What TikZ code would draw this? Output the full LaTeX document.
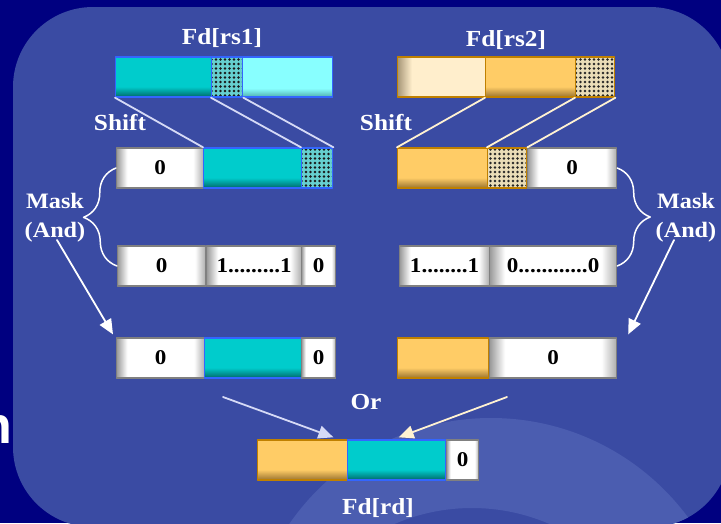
\documentclass[tikz,border=0pt]{standalone}
\usepackage{fontspec}
\setmainfont{Liberation Serif}[FakeStretch=1.1]
\newfontfamily\glyphsans{Liberation Sans}
\usetikzlibrary{arrows.meta,patterns.meta,decorations.pathreplacing}
\definecolor{navy}{HTML}{000080}
\definecolor{panel}{HTML}{3A4BA3}
\definecolor{panelhi}{HTML}{4B5DB0}
\definecolor{tealc}{HTML}{00CCCC}
\definecolor{tealdk}{HTML}{006868}
\definecolor{tealbd}{HTML}{3366FF}
\definecolor{tealdot}{HTML}{66D0D0}
\definecolor{aqua}{HTML}{88FFFF}
\definecolor{aquadk}{HTML}{4FAFAF}
\definecolor{gold}{HTML}{FFCC66}
\definecolor{golddk}{HTML}{9A7430}
\definecolor{goldbd}{HTML}{C08000}
\definecolor{golddot}{HTML}{EADDB8}
\definecolor{creamc}{HTML}{FFEECC}
\definecolor{creamdk}{HTML}{A89878}
\definecolor{lav}{HTML}{D6DAF6}
\definecolor{ivory}{HTML}{FFF2D2}
\pgfdeclarehorizontalshading{zeroshade}{100bp}{color(0bp)=(gray!80); color(25bp)=(gray!80); color(31bp)=(white); color(69bp)=(white); color(75bp)=(gray!65); color(100bp)=(gray!65)}
\pgfdeclareverticalshading{tealshade}{100bp}{color(0bp)=(tealdk); color(25bp)=(tealdk); color(38bp)=(tealc); color(100bp)=(tealc)}
\pgfdeclareverticalshading{aquashade}{100bp}{color(0bp)=(aquadk); color(25bp)=(aquadk); color(36bp)=(aqua); color(100bp)=(aqua)}
\pgfdeclareverticalshading{goldshade}{100bp}{color(0bp)=(golddk); color(25bp)=(golddk); color(38bp)=(gold); color(100bp)=(gold)}
\pgfdeclarehorizontalshading{creamshade}{100bp}{color(0bp)=(creamdk); color(25bp)=(creamdk); color(33bp)=(creamc); color(100bp)=(creamc)}
\begin{document}
\begin{tikzpicture}[x=1pt, y=-1pt, line join=round, line cap=round,
  >={Triangle[length=15pt, width=13pt]},
  cell/.style={minimum height=40pt, inner sep=0pt, anchor=west, text=black,
    font=\bfseries\fontsize{21}{21}\selectfont},
  zero/.style={cell, draw=gray, line width=1.2pt, shade, shading=zeroshade},
  tealcell/.style={cell, draw=tealbd, line width=1.4pt, shade, shading=tealshade},
  aquacell/.style={cell, draw=tealbd, line width=1.4pt, shade, shading=aquashade},
  tealdots/.style={cell, draw=tealbd, line width=1.4pt, preaction={fill=tealdot},
    pattern={Dots[distance=4.5pt, radius=1.4pt]}, pattern color=black!90},
  goldcell/.style={cell, draw=goldbd, line width=1.4pt, shade, shading=goldshade},
  creamcell/.style={cell, draw=goldbd, line width=1.4pt, shade, shading=creamshade},
  golddots/.style={cell, draw=goldbd, line width=1.4pt, preaction={fill=golddot},
    pattern={Dots[distance=4.5pt, radius=1.4pt]}, pattern color=black!85},
  lbl/.style={text=white, font=\bfseries\fontsize{23}{23}\selectfont},
  masklbl/.style={text=white, align=center, font=\bfseries\fontsize{22}{29}\selectfont},
  shiftl/.style={lav, line width=1.8pt},
  shiftr/.style={ivory, line width=1.8pt},
  bracel/.style={white, line width=1.5pt, decorate,
    decoration={brace, amplitude=33pt, aspect=0.5}},
  maskarrow/.style={->, white, line width=1.8pt}]
\def\ra{77}   % row centres
\def\rb{168}
\def\rc{266}
\def\rd{358}
\def\re{460}
\useasboundingbox (0,0) rectangle (721,523);
\fill[navy] (0,0) rectangle (721,523);
\node[text=white, anchor=base east, inner sep=0pt, font=\glyphsans\bfseries\fontsize{52}{52}\selectfont] (cut) at (12,443) {n};
\fill[panel, rounded corners=80pt] (13,7) rectangle (730,527);
\begin{scope}
  \clip[rounded corners=80pt] (13,7) rectangle (730,527);
  \fill[panelhi, even odd rule] (491,663) circle (245pt) (472,703) circle (195pt);
\end{scope}

% Fd[rs1] and its shifted copy
\node[lbl] (rs1) at (222,38) {Fd[rs1]};
\node[tealcell, minimum width=96pt] (ra1) at (115,\ra) {};
\node[tealdots, minimum width=31pt] (ra2) at (211,\ra) {};
\node[aquacell, minimum width=90pt] (ra3) at (242,\ra) {};
\node[lbl] (shl) at (120,123) {Shift};
\node[zero, minimum width=87pt] (sa1) at (116,\rb) {0};
\node[tealcell, minimum width=98pt] (sa2) at (203,\rb) {};
\node[tealdots, minimum width=31pt] (sa3) at (301,\rb) {};
\draw[shiftl] (ra1.south west) -- (sa2.north west)
  (ra2.south west) -- (sa3.north west)
  (ra2.south east) -- (sa3.north east);

% Fd[rs2] and its shifted copy
\node[lbl] (rs2) at (506,40) {Fd[rs2]};
\node[creamcell, minimum width=88pt] (rb1) at (397,\ra) {};
\node[goldcell, minimum width=90pt] (rb2) at (485,\ra) {};
\node[golddots, minimum width=39pt] (rb3) at (575,\ra) {};
\node[lbl] (shr) at (386,123) {Shift};
\node[goldcell, minimum width=90pt] (sb1) at (397,\rb) {};
\node[golddots, minimum width=39pt] (sb2) at (487,\rb) {};
\node[zero, minimum width=89pt] (sb3) at (527,\rb) {0};
\draw[shiftr] (rb2.south west) -- (sb1.north west)
  (rb3.south west) -- (sb2.north west)
  (rb3.south east) -- (sb2.north east);

% masks
\node[zero, minimum width=88pt] (ma1) at (117,\rc) {0};
\node[zero, minimum width=95pt] (ma2) at (206,\rc) {1.........1};
\node[zero, minimum width=34pt] (ma3) at (301,\rc) {0};
\node[zero, minimum width=90pt] (mb1) at (399,\rc) {1........1};
\node[zero, minimum width=127pt] (mb2) at (489,\rc) {0............0};
\node[masklbl] (maskl) at (55,218) {Mask\\(And)};
\node[masklbl] (maskr) at (686,218) {Mask\\(And)};
\draw[bracel] (ma1.west) -- (sa1.west);
\draw[bracel] (sb3.east) -- (mb2.east);

% masked results
\node[zero, minimum width=88pt] (aa1) at (116,\rd) {0};
\node[tealcell, minimum width=97pt] (aa2) at (204,\rd) {};
\node[zero, minimum width=34pt] (aa3) at (301,\rd) {0};
\node[goldcell, minimum width=91pt] (ab1) at (397,\rd) {};
\node[zero, minimum width=127pt] (ab2) at (489,\rd) {0};
\draw[maskarrow] ([shift={(2,-6)}]maskl.south) -- ([shift={(-3,-3)}]aa1.north west);
\draw[maskarrow] ([shift={(-12,-6)}]maskr.south) -- ([shift={(11,-3)}]ab2.north east);

% Or
\node[lbl] (orl) at (366,402) {Or};
\coordinate (ora) at (223,397);
\coordinate (orb) at (507,397);
\node[goldcell, minimum width=90pt] (rd1) at (257,\re) {};
\node[tealcell, minimum width=98pt] (rd2) at (347,\re) {};
\node[zero, minimum width=32pt] (rd3) at (446,\re) {0};
\draw[->, lav, line width=1.8pt] (ora) -- ([shift={(-15,-2)}]rd1.north east);
\draw[->, ivory, line width=1.8pt] (orb) -- ([shift={(2,-2)}]rd2.north);
\node[lbl] (rdl) at (378,508) {Fd[rd]};
\end{tikzpicture}
\end{document}
